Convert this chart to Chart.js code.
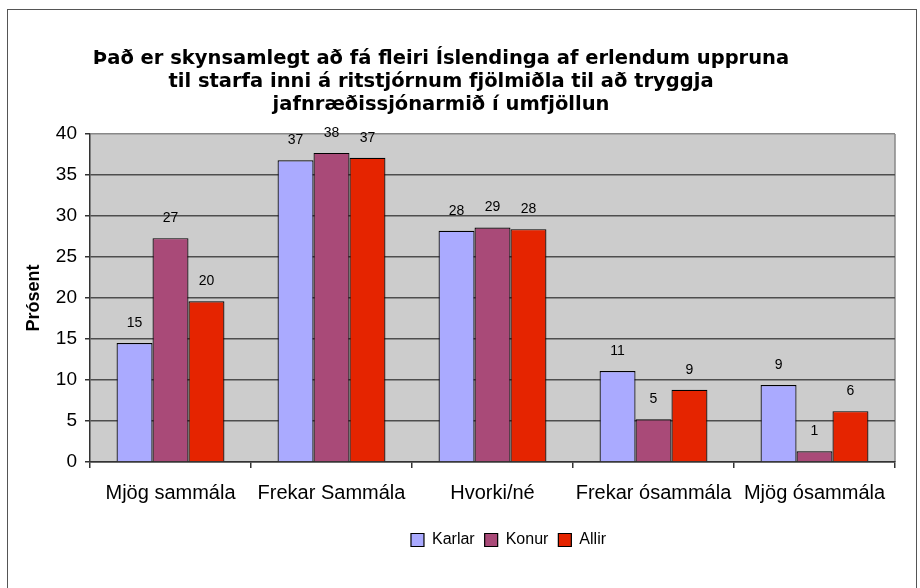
<!DOCTYPE html>
<html><head><meta charset="utf-8">
<script src="https://cdn.jsdelivr.net/npm/chart.js@4.4.1/dist/chart.umd.min.js"></script>
<style>
html,body{margin:0;padding:0;background:#fff;overflow:hidden}
#frame{position:absolute;left:7px;top:9px;width:910px;height:620px;border:1px solid #555;box-sizing:border-box}
#wrap{position:absolute;left:0;top:0;width:920px;height:588px}
</style></head><body>
<div id="frame"></div>
<div id="wrap"><canvas id="c" width="920" height="588"></canvas></div>
<script>
const categories = ['Mjög sammála', 'Frekar Sammála', 'Hvorki/né', 'Frekar ósammála', 'Mjög ósammála'];
const seriesNames = ['Karlar', 'Konur', 'Allir'];
const karlar = [14.5, 36.8, 28.2, 11.1, 9.4];
const konur = [27.3, 37.7, 28.6, 5.2, 1.3];
const allir = [19.6, 37.1, 28.4, 8.8, 6.2];
const yTicks = [0, 5, 10, 15, 20, 25, 30, 35, 40];
const titleLines = [
  'Það er skynsamlegt að fá fleiri Íslendinga af erlendum uppruna',
  'til starfa inni á ritstjórnum fjölmiðla til að tryggja',
  'jafnræðissjónarmið í umfjöllun'
];
const yTitle = 'Prósent';

const FONT = "'Liberation Sans', Arial, sans-serif";
const TITLE_FONT = "'DejaVu Sans', Verdana, sans-serif";

const plotBg = {
  id: 'plotBg',
  beforeDraw(chart) {
    const {ctx, chartArea: a} = chart;
    ctx.save();
    ctx.fillStyle = '#cccccc';
    ctx.fillRect(a.left, a.top, a.right - a.left, a.bottom - a.top);
    ctx.strokeStyle = '#888888';
    ctx.lineWidth = 1.5;
    ctx.beginPath();
    ctx.moveTo(a.right, a.top);
    ctx.lineTo(a.right, a.bottom);
    ctx.stroke();
    ctx.restore();
  }
};

const shiftBlocks = {
  id: 'shiftBlocks',
  afterLayout(chart) {
    if (chart.legend) { chart.legend.left += 61; chart.legend.right += 61; }
    if (chart.titleBlock) { chart.titleBlock.left -= 6.5; chart.titleBlock.right -= 6.5; }
  }
};

const valueLabels = {
  id: 'valueLabels',
  afterDatasetsDraw(chart) {
    const ctx = chart.ctx;
    ctx.save();
    ctx.font = '14px ' + FONT;
    ctx.fillStyle = '#000';
    ctx.textAlign = 'center';
    ctx.textBaseline = 'middle';
    chart.data.datasets.forEach((ds, i) => {
      const meta = chart.getDatasetMeta(i);
      meta.data.forEach((el, j) => {
        ctx.fillText(String(Math.round(ds.data[j])), el.x, el.y - 20);
      });
    });
    ctx.restore();
  }
};

new Chart(document.getElementById('c'), {
  type: 'bar',
  data: {
    labels: categories,
    datasets: [
      {label: seriesNames[0], data: karlar, backgroundColor: '#aaaaff', borderColor: '#000', borderWidth: 1.2},
      {label: seriesNames[1], data: konur, backgroundColor: '#a94a78', borderColor: '#000', borderWidth: 1.2},
      {label: seriesNames[2], data: allir, backgroundColor: '#e52400', borderColor: '#000', borderWidth: 1.2}
    ]
  },
  options: {
    responsive: false,
    animation: false,
    devicePixelRatio: 1,
    datasets: {bar: {categoryPercentage: 0.67, barPercentage: 1.0}},
    layout: {padding: {left: 0, right: 25, top: 0, bottom: 30}},
    plugins: {
      tooltip: {enabled: false},
      title: {
        display: true,
        text: titleLines,
        color: '#000',
        font: {family: TITLE_FONT, size: 19.5, weight: 'bold', lineHeight: 1.18},
        padding: {top: 47, bottom: 18}
      },
      legend: {
        position: 'bottom',
        labels: {
          color: '#000',
          boxWidth: 13,
          boxHeight: 13,
          padding: 10,
          font: {family: FONT, size: 16}
        }
      }
    },
    scales: {
      x: {
        afterFit(s) { s.height = 60; },
        grid: {offset: true, drawOnChartArea: false, drawTicks: true, tickLength: 6, tickColor: '#333', lineWidth: 1.5},
        border: {display: true, color: '#333', width: 1.5},
        ticks: {color: '#000', padding: 13, maxRotation: 0, autoSkip: false, font: {family: FONT, size: 20}}
      },
      y: {
        min: 0,
        max: 40,
        afterFit(s) { s.width = 90; },
        afterBuildTicks(s) { s.ticks = yTicks.map(v => ({value: v})); },
        grid: {
          color: ctx => (ctx.tick && ctx.tick.value === 40) ? '#888888' : '#4d4d4d',
          lineWidth: 1.5,
          tickLength: 5,
          tickColor: '#333'
        },
        border: {display: true, color: '#333', width: 1.5},
        ticks: {color: '#000', padding: 8, font: {family: FONT, size: 19}},
        title: {
          display: true,
          text: yTitle,
          color: '#000',
          font: {family: FONT, size: 18, weight: 'bold'},
          padding: {top: 23, bottom: 0}
        }
      }
    }
  },
  plugins: [plotBg, shiftBlocks, valueLabels]
});
</script>
</body></html>
